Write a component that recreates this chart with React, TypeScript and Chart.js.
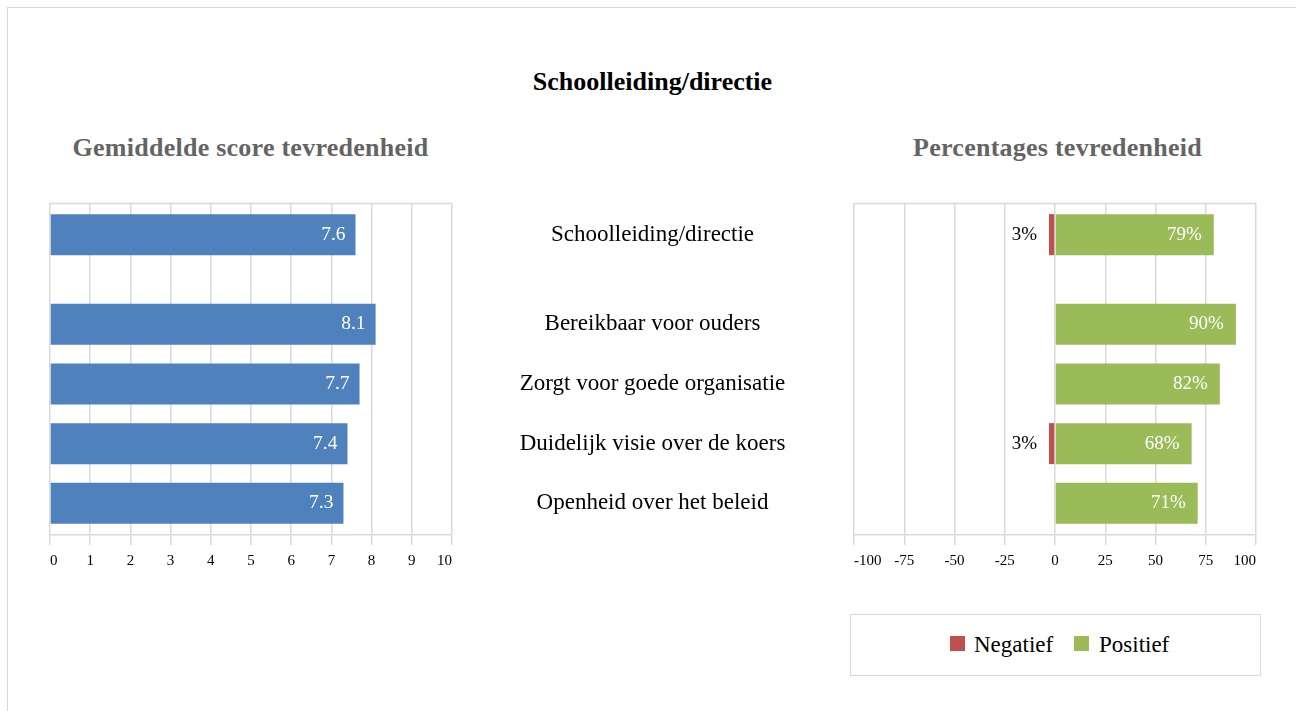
import React, { useEffect, useRef } from "react";
import { Chart, registerables } from "chart.js";

Chart.register(...registerables);

// ---------- data ----------
const categories = [
  "Schoolleiding/directie",
  "Bereikbaar voor ouders",
  "Zorgt voor goede organisatie",
  "Duidelijk visie over de koers",
  "Openheid over het beleid",
];
const meanScores = [7.6, 8.1, 7.7, 7.4, 7.3];
const negativePct: (number | null)[] = [-3, null, null, -3, null];
const positivePct = [79, 90, 82, 68, 71];
const scoreTicks = [0, 1, 2, 3, 4, 5, 6, 7, 8, 9, 10];
const pctTicks = [-100, -75, -50, -25, 0, 25, 50, 75, 100];
const seriesNames = ["Negatief", "Positief"];

// ---------- style ----------
const FONT = "'Liberation Serif', 'Times New Roman', serif";
const GRID = "#d9d9d9";
const BLUE = "#4f81bd";
const RED = "#c0504d";
const GREEN = "#9bbb59";

// the summary row is followed by half a row of empty space
const rowSlot = (i: number) => (i === 0 ? 0 : i + 0.5);
const slots = categories.map((_, i) => rowSlot(i));
const EDGE = 0.53;
const yMin = -EDGE;
const yMax = rowSlot(categories.length - 1) + EDGE;
const BAR_PCT = 0.687;

const topBorder = {
  id: "topBorder",
  beforeDatasetsDraw(chart: any) {
    const { ctx, chartArea } = chart;
    const y = Math.round(chartArea.top - 0.5) + 0.5;
    ctx.save();
    ctx.strokeStyle = GRID;
    ctx.lineWidth = 1.5;
    ctx.beginPath();
    ctx.moveTo(chartArea.left, y);
    ctx.lineTo(chartArea.right, y);
    ctx.stroke();
    ctx.restore();
  },
};

const scoreLabels = {
  id: "scoreLabels",
  afterDatasetsDraw(chart: any) {
    const ctx = chart.ctx;
    const meta = chart.getDatasetMeta(0);
    ctx.save();
    ctx.font = `19.5px ${FONT}`;
    ctx.fillStyle = "#ffffff";
    ctx.textAlign = "right";
    ctx.textBaseline = "middle";
    meta.data.forEach((el: any, i: number) => {
      const v = chart.data.datasets[0].data[i].x;
      ctx.fillText(v.toFixed(1), el.x - 10, el.y);
    });
    ctx.restore();
  },
};

const pctLabels = {
  id: "pctLabels",
  afterDatasetsDraw(chart: any) {
    const ctx = chart.ctx;
    ctx.save();
    ctx.font = `19px ${FONT}`;
    ctx.textAlign = "right";
    ctx.textBaseline = "middle";
    chart.data.datasets.forEach((ds: any, d: number) => {
      const meta = chart.getDatasetMeta(d);
      meta.data.forEach((el: any, i: number) => {
        const v = ds.data[i].x;
        ctx.fillStyle = v < 0 ? "#000000" : "#ffffff";
        ctx.fillText(`${Math.abs(v)}%`, el.x - 12, el.y);
      });
    });
    ctx.restore();
  },
};

const X_AXIS_H = 50;

const xAxis = (ticks: number[]) => ({
  type: "linear" as const,
  position: "bottom" as const,
  min: ticks[0],
  max: ticks[ticks.length - 1],
  afterBuildTicks: (s: any) => {
    s.ticks = ticks.map((value) => ({ value }));
  },
  afterFit: (s: any) => {
    s.height = X_AXIS_H;
  },
  ticks: {
    color: "#000",
    font: { family: FONT, size: 15 },
    padding: 7,
    align: "inner",
    autoSkip: false,
    maxRotation: 0,
    callback: (v: any) => String(v),
  },
  grid: { color: GRID, lineWidth: 1.5, tickLength: 10, tickColor: GRID },
  border: { color: GRID, width: 1.5 },
});

export default function App() {
  const leftRef = useRef<HTMLCanvasElement>(null);
  const rightRef = useRef<HTMLCanvasElement>(null);

  useEffect(() => {
    Chart.defaults.font.family = FONT;

    const CANVAS_H = 600;
    const PLOT_TOP = 203;
    const PLOT_BOTTOM = 535;
    const padBottom = CANVAS_H - PLOT_BOTTOM - X_AXIS_H;

    const left = new Chart(leftRef.current!, {
      type: "bar",
      data: {
        datasets: [
          {
            label: "Gemiddelde score",
            data: meanScores.map((v, i) => ({ x: v, y: rowSlot(i) })),
            backgroundColor: BLUE,
            borderWidth: 0,
            barPercentage: BAR_PCT,
            categoryPercentage: 1,
          },
        ],
      },
      options: {
        indexAxis: "y",
        responsive: false,
        animation: false,
        devicePixelRatio: 1,
        layout: { padding: { left: 50, top: PLOT_TOP, right: 28, bottom: padBottom } },
        plugins: { legend: { display: false }, tooltip: { enabled: false } },
        scales: {
          x: xAxis(scoreTicks),
          y: {
            type: "linear",
            display: false,
            offset: false,
            min: yMin,
            max: yMax,
            reverse: true,
            afterBuildTicks: (s: any) => {
              s.ticks = slots.map((value) => ({ value }));
            },
            grid: { display: false, offset: false },
          },
        },
      } as any,
      plugins: [topBorder, scoreLabels],
    });

    const labelFont = 23;
    const mctx = document.createElement("canvas").getContext("2d")!;
    mctx.font = `${labelFont}px ${FONT}`;
    const widest = Math.max(...categories.map((c) => mctx.measureText(c).width));
    const axisWidth = 401;
    const labelPad = (axisWidth - widest) / 2 + 1;

    const right = new Chart(rightRef.current!, {
      type: "bar",
      data: {
        datasets: [
          {
            label: seriesNames[0],
            data: negativePct
              .map((v, i) => (v == null ? null : { x: v, y: rowSlot(i) }))
              .filter((p) => p !== null) as any,
            backgroundColor: RED,
            borderWidth: 0,
            barPercentage: BAR_PCT,
            categoryPercentage: 1,
            grouped: false,
          },
          {
            label: seriesNames[1],
            data: positivePct.map((v, i) => ({ x: v, y: rowSlot(i) })),
            backgroundColor: GREEN,
            borderWidth: 0,
            barPercentage: BAR_PCT,
            categoryPercentage: 1,
            grouped: false,
          },
        ],
      },
      options: {
        indexAxis: "y",
        responsive: false,
        animation: false,
        devicePixelRatio: 1,
        layout: { padding: { left: 0, top: PLOT_TOP, right: 40, bottom: padBottom } },
        plugins: { legend: { display: false }, tooltip: { enabled: false } },
        scales: {
          x: xAxis(pctTicks),
          y: {
            type: "linear",
            offset: false,
            min: yMin,
            max: yMax,
            reverse: true,
            afterBuildTicks: (s: any) => {
              s.ticks = slots.map((value) => ({ value }));
            },
            afterFit: (s: any) => {
              s.width = axisWidth;
              s.paddingTop = 0;
              s.paddingBottom = 0;
            },
            grid: { display: false, drawTicks: false, offset: false },
            border: { display: false },
            ticks: {
              autoSkip: false,
              crossAlign: "center",
              padding: labelPad,
              color: "#000",
              font: { family: FONT, size: labelFont },
              callback: (v: any) => categories[slots.indexOf(Number(v))] ?? "",
            },
          },
        },
      } as any,
      plugins: [topBorder, pctLabels],
    });

    return () => {
      left.destroy();
      right.destroy();
    };
  }, []);

  const abs = (s: React.CSSProperties): React.CSSProperties => ({ position: "absolute", ...s });

  return (
    <div>
      <div
        style={abs({
          left: 7,
          top: 7,
          width: 1289,
          height: 704,
          boxSizing: "border-box",
          borderLeft: `1px solid ${GRID}`,
          borderTop: `1px solid ${GRID}`,
        })}
      />
      <div
        style={abs({
          left: 9,
          top: 69,
          width: 1287,
          textAlign: "center",
          font: `bold 26px ${FONT}`,
          lineHeight: "26px",
          color: "#000",
          whiteSpace: "nowrap",
        })}
      >
        Schoolleiding/directie
      </div>
      <div
        style={abs({
          left: 50.5,
          top: 135,
          width: 400,
          textAlign: "center",
          font: `bold 26px ${FONT}`,
          lineHeight: "26px",
          letterSpacing: "0.25px",
          color: "#646464",
          whiteSpace: "nowrap",
        })}
      >
        Gemiddelde score tevredenheid
      </div>
      <div
        style={abs({
          left: 857.5,
          top: 135,
          width: 400,
          textAlign: "center",
          font: `bold 26px ${FONT}`,
          lineHeight: "26px",
          letterSpacing: "0.25px",
          color: "#646464",
          whiteSpace: "nowrap",
        })}
      >
        Percentages tevredenheid
      </div>
      <canvas
        ref={leftRef}
        width={480}
        height={600}
        style={abs({ left: 0, top: 0, width: 480, height: 600 })}
      />
      <canvas
        ref={rightRef}
        width={843}
        height={600}
        style={abs({ left: 453, top: 0, width: 843, height: 600 })}
      />
      <div
        style={abs({
          left: 850,
          top: 614,
          width: 411,
          height: 62,
          boxSizing: "border-box",
          border: `1px solid ${GRID}`,
        })}
      />
      <div style={abs({ left: 950, top: 636, width: 15, height: 15, background: RED })} />
      <div
        style={abs({ left: 974, top: 633, font: `23px ${FONT}`, lineHeight: "23px", color: "#000", whiteSpace: "nowrap" })}
      >
        {seriesNames[0]}
      </div>
      <div style={abs({ left: 1074, top: 636, width: 15, height: 15, background: GREEN })} />
      <div
        style={abs({ left: 1099, top: 633, font: `23px ${FONT}`, lineHeight: "23px", color: "#000", whiteSpace: "nowrap" })}
      >
        {seriesNames[1]}
      </div>
    </div>
  );
}
